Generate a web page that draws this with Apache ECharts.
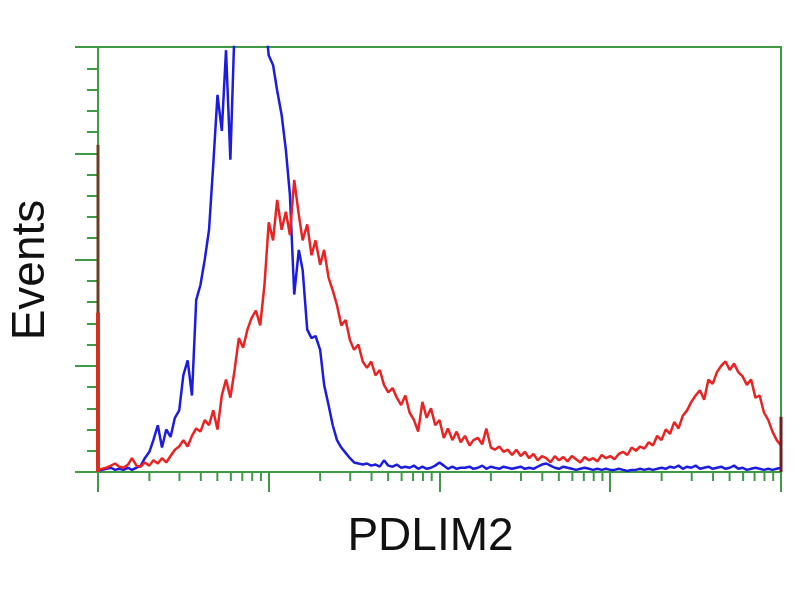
<!DOCTYPE html>
<html>
<head>
<meta charset="utf-8">
<script src="https://cdn.jsdelivr.net/npm/echarts@6/dist/echarts.min.js"></script>
<style>
html,body{margin:0;padding:0;background:#fff;}
#chart{width:800px;height:600px;}
</style>
</head>
<body>
<div id="chart"></div>
<script>
// Fluorescence intensity (bin centres, log scale)
const intensity = [
1.00,1.06,1.12,1.19,1.26,1.33,1.41,1.50,1.58,1.68,1.78,1.88,2.00,2.11,2.24,2.37,2.51,2.66,2.82,2.99,
3.16,3.35,3.55,3.76,3.98,4.22,4.47,4.73,5.01,5.31,5.62,5.96,6.31,6.68,7.08,7.50,7.94,8.41,8.91,9.44,
10.0,10.6,11.2,11.9,12.6,13.3,14.1,15.0,15.8,16.8,17.8,18.8,20.0,21.1,22.4,23.7,25.1,26.6,28.2,29.9,
31.6,33.5,35.5,37.6,39.8,42.2,44.7,47.3,50.1,53.1,56.2,59.6,63.1,66.8,70.8,75.0,79.4,84.1,89.1,94.4,
100,106,112,119,126,133,141,150,158,168,178,188,200,211,224,237,251,266,282,299,
316,335,355,376,398,422,447,473,501,531,562,596,631,668,708,750,794,841,891,944,
1000,1059,1122,1189,1259,1334,1413,1496,1585,1679,1778,1884,1995,2113,2239,2371,2512,2661,2818,2985,
3162,3350,3548,3758,3981,4217,4467,4732,5012,5309,5623,5957,6310,6683,7079,7499,7943,8414,8913,9441,
10000];

// Events – control (blue)
const controlCounts = [
2,2,3,4,2,3,2,4,2,4,6,13,19,30,44,23,40,33,51,58,
91,105,72,162,176,200,228,289,355,321,397,294,420,440,455,470,465,460,450,430,
392,383,359,336,303,261,167,209,190,134,126,128,115,82,63,44,30,23,18,13,
9,8,7,8,6,7,5,11,6,5,7,4,5,4,6,3,5,3,4,6,
9,6,3,5,3,4,4,5,3,4,6,3,5,4,3,5,4,3,4,5,
3,4,3,5,7,8,6,4,3,5,4,3,2,3,4,3,2,3,2,3,
2,2,3,2,1,2,2,3,2,3,2,3,4,3,5,4,6,3,5,4,
6,3,4,5,3,4,5,3,4,6,3,4,2,3,4,3,2,3,2,3,
4];

// Events – PDLIM2 transfected (red)
const pdlim2Counts = [
2,3,4,6,8,5,4,7,13,6,5,9,6,11,8,13,9,15,21,24,
30,24,34,41,38,49,44,58,40,72,87,70,96,126,117,134,145,152,138,176,
235,218,256,228,245,223,275,242,218,233,204,218,195,209,183,171,157,138,143,124,
115,120,104,98,104,91,96,82,75,79,70,63,72,56,49,38,66,51,60,44,
49,32,41,30,38,28,34,25,30,32,26,41,23,21,24,19,21,16,21,15,
19,13,17,11,15,13,9,15,11,14,10,15,12,9,14,11,13,10,16,13,
15,12,17,19,16,23,20,24,22,28,25,34,30,40,36,47,41,53,58,66,
72,77,68,87,83,94,100,104,96,102,94,90,82,87,70,72,56,49,38,30,
25];

// Off-scale pile-up in the first / last channel
const firstChannel = {control: 308, pdlim2: 150};
const lastChannel = 52;

// Minor log ticks
const minorTickValues = [2,3,4,5,6,7,8,9,20,30,40,50,60,70,80,90,200,300,400,500,600,700,800,900,2000,3000,4000,5000,6000,7000,8000,9000];

const green = '#3f9a45';
const chart = echarts.init(document.getElementById('chart'));
const pair = (xs, ys) => xs.map((x, i) => [x, ys[i]]);

chart.setOption({
  animation: false,
  backgroundColor: '#ffffff',
  grid: {left: 94, right: 19, top: 47, bottom: 128, show: true, borderColor: green, borderWidth: 2},
  xAxis: {
    type: 'log', logBase: 10, min: 1, max: 10000,
    name: 'PDLIM2', nameLocation: 'middle', nameGap: 42,
    nameTextStyle: {fontFamily: 'Liberation Sans, Arial', fontSize: 46, color: '#111', padding: [0, 18, 0, 0]},
    axisLine: {lineStyle: {color: green, width: 2}},
    axisTick: {show: true, length: 20, lineStyle: {color: green, width: 2}},
    axisLabel: {show: false},
    splitLine: {show: false}
  },
  yAxis: {
    type: 'value', min: 0, max: 400, interval: 100,
    name: 'Events', nameLocation: 'middle', nameGap: 44, nameRotate: 90,
    nameTextStyle: {fontFamily: 'Liberation Sans, Arial', fontSize: 46, color: '#111', padding: [0, 21, 0, 0]},
    axisLine: {show: true, lineStyle: {color: green, width: 2}},
    axisTick: {show: true, length: 23, lineStyle: {color: green, width: 2}},
    minorTick: {show: true, splitNumber: 5, length: 11, lineStyle: {color: green, width: 2}},
    axisLabel: {show: false},
    splitLine: {show: false}
  },
  series: [
    {
      type: 'custom', name: 'minorTicks', silent: true, clip: false, z: 1,
      data: minorTickValues.map(v => [v, 0]),
      renderItem: function (params, api) {
        const p = api.coord([api.value(0), 0]);
        return {type: 'line', shape: {x1: p[0], y1: p[1], x2: p[0], y2: p[1] + 9},
          style: {stroke: green, lineWidth: 2}};
      }
    },
    {
      type: 'line', name: 'Control', data: pair(intensity, controlCounts),
      showSymbol: false, z: 3,
      lineStyle: {color: '#1c1ce0', width: 2.5}
    },
    {
      type: 'line', name: 'PDLIM2', data: pair(intensity, pdlim2Counts),
      showSymbol: false, z: 4,
      lineStyle: {color: '#ea2222', width: 2.5}
    },
    {
      type: 'line', name: 'firstControl', data: [[1, 0], [1, firstChannel.control]],
      showSymbol: false, z: 5, lineStyle: {color: '#6a4020', width: 3}
    },
    {
      type: 'line', name: 'firstPdlim2', data: [[1, 0], [1, firstChannel.pdlim2]],
      showSymbol: false, z: 6, lineStyle: {color: '#d83020', width: 4}
    },
    {
      type: 'line', name: 'lastChannel', data: [[10000, 0], [10000, lastChannel]],
      showSymbol: false, z: 6, lineStyle: {color: '#6a2020', width: 3}
    }
  ]
});
</script>
</body>
</html>
